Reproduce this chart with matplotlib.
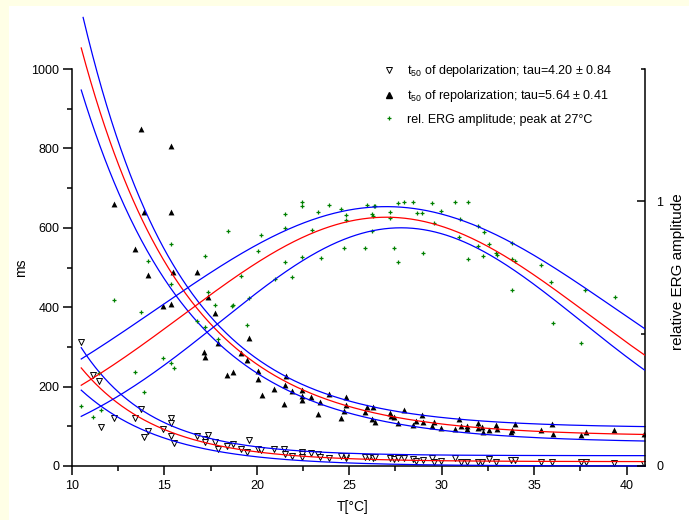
import numpy as np
import matplotlib
matplotlib.use("Agg")
import matplotlib.pyplot as plt
from matplotlib.patches import Rectangle
from matplotlib.lines import Line2D
from matplotlib.ticker import MultipleLocator, FixedLocator

plt.rcParams['font.family'] = ['Liberation Sans', 'DejaVu Sans']
plt.rcParams['mathtext.fontset'] = 'custom'
plt.rcParams['mathtext.rm'] = 'Liberation Sans'
plt.rcParams['mathtext.default'] = 'regular'

# t50 of depolarization (ms)
depol_T = [10.47, 11.12, 11.47, 11.55, 12.27, 13.4, 13.76, 14.09, 13.9, 14.9, 15.34, 15.34, 15.33,
           15.52, 16.76, 17.18, 17.18, 17.38, 17.72, 17.92, 18.4, 18.69, 19.12, 19.48, 19.57, 20.07,
           20.25, 20.94, 21.48, 21.53, 21.89, 22.45, 22.45, 22.45, 22.95, 23.33, 23.44, 23.89, 24.57,
           24.82, 24.82, 25.85, 26.08, 26.28, 26.39, 27.18, 27.43, 27.63, 27.95, 28.46, 28.6, 29.01,
           29.48, 29.6, 29.98, 30.72, 31.03, 31.39, 31.95, 32.2, 32.56, 32.94, 33.74, 33.94, 35.38,
           35.96, 37.54, 37.81, 39.34, 40.96]
depol_ms = [313, 228, 214, 97, 121, 121, 144, 89, 74, 92, 121, 109, 76,
            59, 76, 67, 61, 78, 61, 44, 51, 55, 44, 36, 65, 43,
            40, 43, 43, 29, 26, 36, 29, 23, 32, 29, 22, 19, 26,
            19, 24, 22, 22, 19, 23, 19, 17, 21, 19, 17, 13, 16,
            19, 11, 13, 19, 9, 9, 9, 11, 17, 11, 15, 15, 9,
            9, 9, 9, 8, 4]

# t50 of repolarization (ms)
repol_T = [13.76, 15.33, 12.25, 13.92, 15.36, 13.4, 14.1, 15.49, 16.76, 17.38, 14.9, 15.34, 17.72,
           17.9, 19.57, 17.14, 17.18, 19.12, 19.48, 18.38, 18.69, 20.07, 20.07, 20.27, 20.94, 21.48,
           21.59, 21.53, 21.89, 22.45, 22.45, 22.45, 22.95, 23.33, 23.44, 23.89, 24.57, 24.72, 24.82,
           24.82, 25.85, 25.94, 26.28, 26.21, 26.39, 27.18, 27.25, 27.43, 27.63, 27.95, 28.46, 28.6,
           28.96, 29.01, 29.48, 29.6, 29.98, 30.72, 30.96, 31.03, 31.39, 31.39, 31.95, 31.95, 32.2,
           32.25, 32.56, 32.94, 33.0, 33.74, 33.82, 33.94, 35.38, 35.96, 36.01, 37.54, 37.81, 39.34,
           40.96]
repol_ms = [848, 805, 661, 641, 641, 547, 480, 489, 489, 426, 404, 409, 386,
            310, 323, 288, 274, 284, 267, 229, 238, 240, 219, 179, 195, 156,
            227, 205, 189, 191, 176, 166, 174, 132, 162, 181, 122, 138, 174,
            153, 136, 148, 148, 118, 112, 134, 126, 123, 108, 141, 104, 114,
            128, 112, 102, 111, 96, 93, 119, 101, 102, 92, 108, 96, 97,
            86, 91, 103, 93, 86, 91, 106, 91, 106, 81, 78, 85, 91,
            80]

# relative ERG amplitude
erg_T = [12.27, 13.76, 17.72, 18.69, 16.76, 17.18, 17.9, 19.48, 14.9, 15.34, 15.52, 13.4, 11.47,
         13.9, 10.47, 11.12, 11.55, 15.34, 17.18, 14.1, 15.34, 17.38, 22.47, 22.47, 23.89, 24.55,
         25.96, 26.4, 21.51, 23.33, 24.82, 24.82, 26.23, 26.26, 18.42, 20.25, 21.5, 22.97, 26.23,
         20.07, 21.55, 22.45, 23.45, 24.72, 25.85, 19.14, 20.96, 21.88, 19.55, 18.67, 26.35, 27.65,
         27.95, 28.47, 29.5, 30.72, 31.41, 27.22, 27.22, 28.64, 28.96, 29.98, 29.6, 31.0, 31.96,
         32.27, 30.94, 31.95, 32.56, 33.8, 32.92, 33.0, 32.22, 31.41, 33.82, 33.94, 27.43, 29.01,
         27.65, 35.38, 35.94, 37.78, 39.36, 33.78, 36.03, 37.54]
erg_rel = [0.626, 0.582, 0.608, 0.608, 0.548, 0.526, 0.478, 0.532, 0.409, 0.388, 0.37, 0.357, 0.35,
           0.28, 0.225, 0.184, 0.21, 0.839, 0.794, 0.776, 0.686, 0.657, 0.997, 0.984, 0.985, 0.972,
           0.985, 0.981, 0.952, 0.96, 0.947, 0.928, 0.953, 0.943, 0.887, 0.872, 0.9, 0.89, 0.888,
           0.814, 0.772, 0.791, 0.785, 0.823, 0.823, 0.718, 0.706, 0.713, 0.635, 0.606, 0.982, 0.994,
           0.999, 0.999, 0.995, 0.999, 0.999, 0.96, 0.938, 0.957, 0.957, 0.962, 0.917, 0.933, 0.908,
           0.883, 0.864, 0.83, 0.84, 0.843, 0.805, 0.799, 0.794, 0.782, 0.781, 0.775, 0.825, 0.806,
           0.77, 0.76, 0.697, 0.664, 0.637, 0.664, 0.541, 0.465]

# exponential fits: (offset, amplitude at T0, tau) with confidence bands
T0 = 10.5
depol_fit, depol_hi, depol_lo = (11, 236, 4.20), (26, 272, 3.8), (0, 191, 4.5)
repol_fit, repol_hi, repol_lo = (75, 978, 5.64), (96, 1054, 5.28), (58, 889, 5.87)
# gaussian fits: (peak, centre, width)
erg_fit, erg_hi, erg_lo = (0.94, 27.0, 11.0), (0.98, 27.0, 12.4), (0.90, 27.8, 9.77)
Y_CAP = 1130  # curves are cut off above this value

RED, BLUE, GREEN = "#ff0000", "#0000ff", "#008000"


def decay(t, y0, a, tau):
    y = y0 + a * np.exp(-(t - T0) / tau)
    return np.where(y > Y_CAP, np.nan, y)


def gauss(t, peak, xc, w):
    return peak * np.exp(-(t - xc) ** 2 / (2 * w ** 2))


fig = plt.figure(figsize=(6.89, 5.2), dpi=100, facecolor="#ffffe6")
fig.patches.append(Rectangle((9 / 689, 0), 1, 1 - 6 / 520, transform=fig.transFigure,
                             facecolor="white", edgecolor="none", zorder=-10))

ax = fig.add_axes([72 / 689, 1 - 466 / 520, 573 / 689, 397 / 520])
ax.patch.set_alpha(0)
ax2 = ax.twinx()

ax.scatter(depol_T, depol_ms, marker="v", s=18, facecolor="white", edgecolor="black",
           linewidth=0.7, zorder=3)
ax.scatter(repol_T, repol_ms, marker="^", s=18, color="black", linewidth=0, zorder=3)

t = np.linspace(T0, 41, 600)
for fit, hi, lo in [(depol_fit, depol_hi, depol_lo), (repol_fit, repol_hi, repol_lo)]:
    ax.plot(t, decay(t, *hi), color=BLUE, lw=0.9, clip_on=False, zorder=4)
    ax.plot(t, decay(t, *lo), color=BLUE, lw=0.9, clip_on=False, zorder=4)
    ax.plot(t, decay(t, *fit), color=RED, lw=0.9, clip_on=False, zorder=4)

ax2.scatter(erg_T, erg_rel, marker="+", s=10, color=GREEN, linewidth=0.9, zorder=3)
ax2.plot(t, gauss(t, *erg_hi), color=BLUE, lw=0.9, zorder=4)
ax2.plot(t, gauss(t, *erg_lo), color=BLUE, lw=0.9, zorder=4)
ax2.plot(t, gauss(t, *erg_fit), color=RED, lw=0.9, zorder=4)

ax.set_xlim(10, 41)
ax.set_ylim(0, 1000)
ax2.set_ylim(0, 1.5)

for a in (ax, ax2):
    a.spines["top"].set_visible(False)
    for s in a.spines.values():
        s.set_linewidth(1.1)
ax.spines["right"].set_visible(False)
ax2.spines["left"].set_visible(False)
ax2.spines["bottom"].set_visible(False)

ax.xaxis.set_major_locator(MultipleLocator(5))
ax.xaxis.set_minor_locator(MultipleLocator(2.5))
ax.yaxis.set_major_locator(MultipleLocator(200))
ax.yaxis.set_minor_locator(MultipleLocator(100))
ax.tick_params(which="major", direction="out", length=6.5, width=1.1, labelsize=9, pad=2.5)
ax.tick_params(which="minor", direction="out", length=3.6, width=1.1)
ax.tick_params(axis="x", which="major", pad=3.5)

ax2.yaxis.set_major_locator(FixedLocator([0, 1]))
ax2.yaxis.set_minor_locator(FixedLocator([0.5, 1.5]))
ax2.set_yticklabels(["0", "1"])
ax2.tick_params(which="major", direction="in", length=6, width=1.1, labelsize=9, pad=8)
ax2.tick_params(which="minor", direction="in", length=3, width=1.1)

ax.set_xlabel("T[°C]", fontsize=10, va="center")
ax.xaxis.set_label_coords(0.489, -0.103)
ax.set_ylabel("ms", fontsize=10, va="center")
ax.yaxis.set_label_coords(-0.089, 0.5)
ax2.set_ylabel("relative ERG amplitude", fontsize=11, va="center", rotation=90)
ax2.yaxis.set_label_coords(1.0576, 0.489)

handles = [
    Line2D([], [], ls="none", marker="v", ms=4.2, mfc="white", mec="black", mew=0.7),
    Line2D([], [], ls="none", marker="^", ms=4.2, color="black"),
    Line2D([], [], ls="none", marker="+", ms=3.0, color=GREEN, mew=0.9),
]
labels = [
    "t$_{50}$ of depolarization; tau=4.20 ± 0.84",
    "t$_{50}$ of repolarization; tau=5.64 ± 0.41",
    "rel. ERG amplitude; peak at 27°C",
]
ax2.legend(handles, labels, loc="upper left", bbox_to_anchor=(382.7 / 689, 1 - 63 / 520),
           bbox_transform=fig.transFigure, frameon=False, fontsize=9, handlelength=1.0,
           handletextpad=0.94, borderpad=0, borderaxespad=0, labelspacing=0.75)

fig.savefig("out.png", dpi=100, facecolor=fig.get_facecolor())
plt.close(fig)
